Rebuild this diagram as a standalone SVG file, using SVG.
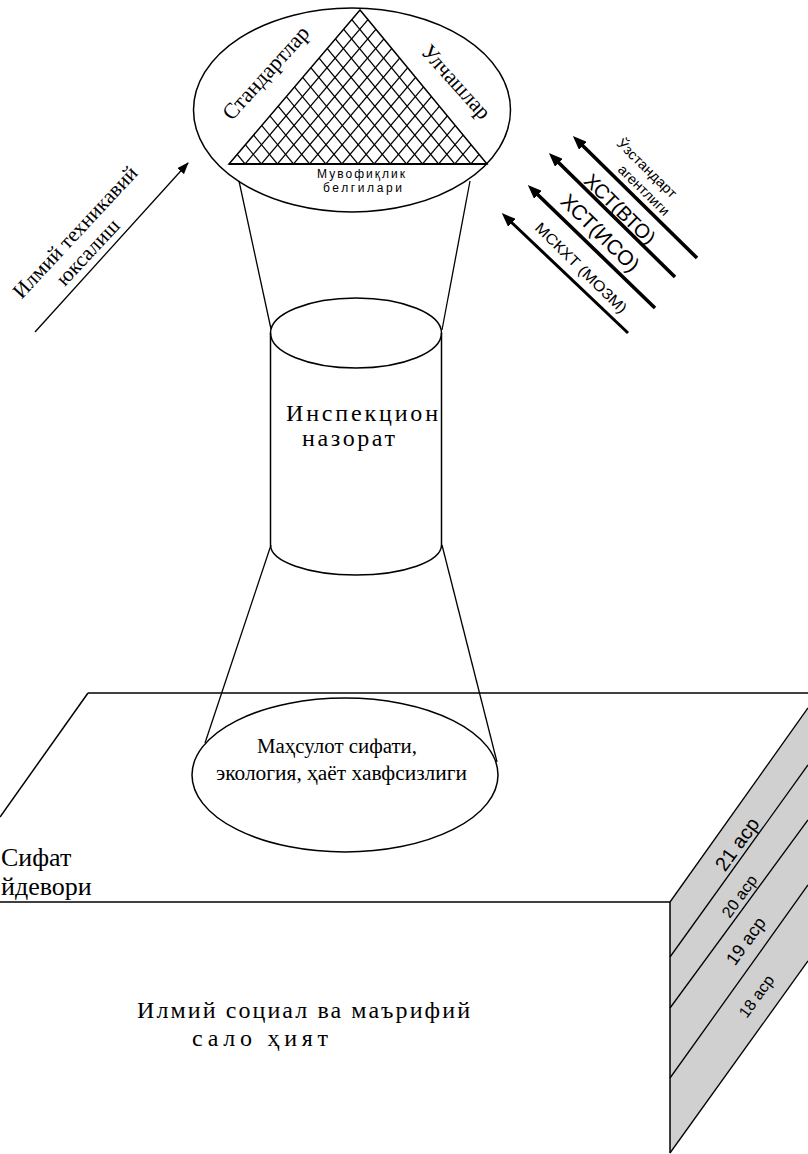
<svg xmlns="http://www.w3.org/2000/svg" width="808" height="1154" viewBox="0 0 808 1154">
<style>
.ln{fill:none;stroke:#000;stroke-width:1.5}
.tn{fill:none;stroke:#000;stroke-width:1.3}
.serif{font-family:'Liberation Serif','Times New Roman','DejaVu Serif',serif;fill:#000}
.sans{font-family:'Liberation Sans',Arial,'DejaVu Sans',sans-serif;fill:#000}
.hatch{stroke:#000;stroke-width:1.2}
.thick{fill:none;stroke:#000;stroke-width:3.6}
</style>
<defs>
<clipPath id="tri"><polygon points="360,10 229,164 487,164"/></clipPath>
<marker id="ah" markerUnits="userSpaceOnUse" markerWidth="14" markerHeight="11" viewBox="0 0 14 11" refX="4" refY="5.5" orient="auto"><path d="M0,0 L14,5.5 L0,11 Z" fill="#000"/></marker>
<marker id="ahs" markerUnits="userSpaceOnUse" markerWidth="12" markerHeight="9" viewBox="0 0 12 9" refX="11" refY="4.5" orient="auto"><path d="M0,0 L12,4.5 L0,9 Z" fill="#000"/></marker>
</defs>

<!-- Base box (quality wall) -->
<g id="box">
<polygon points="670,902 808,708 808,961 670,1153" fill="#d0d0d0" stroke="none"/>
<line class="ln" x1="88" y1="693" x2="808" y2="693"/>
<line class="ln" x1="88" y1="693" x2="0" y2="817"/>
<line class="ln" x1="0" y1="902" x2="670" y2="902"/>
<line class="ln" x1="670" y1="902" x2="670" y2="1153"/>
<line class="tn" x1="670" y1="902" x2="808" y2="708"/>
<line class="tn" x1="670" y1="1153" x2="808" y2="961"/>
<line class="tn" x1="670" y1="957" x2="808" y2="765"/>
<line class="tn" x1="670" y1="1008" x2="808" y2="820"/>
<line class="tn" x1="670" y1="1078" x2="808" y2="885"/>
<text class="sans" font-size="20" text-anchor="middle" transform="translate(737,844) rotate(-54)" y="7">21 аср</text>
<text class="sans" font-size="16" text-anchor="middle" transform="translate(739,896) rotate(-54)" y="6">20 аср</text>
<text class="sans" font-size="18" text-anchor="middle" transform="translate(746,941) rotate(-54)" y="6">19 аср</text>
<text class="sans" font-size="16" text-anchor="middle" transform="translate(756,996) rotate(-54)" y="6">18 аср</text>
<text class="serif" font-size="26" x="1" y="866">Сифат</text>
<text class="serif" font-size="26" x="1" y="895">йдевори</text>
<text class="serif" font-size="24" x="137" y="1018" textLength="333" lengthAdjust="spacing">Илмий социал ва маърифий</text>
<text class="serif" font-size="24" x="192" y="1046" textLength="136" lengthAdjust="spacing">сало ҳият</text>
</g>

<!-- Connectors (cone lines and arrows) -->
<g id="connectors">
<line class="tn" x1="239" y1="181" x2="271" y2="329"/>
<line class="tn" x1="470" y1="181" x2="442" y2="330"/>
<line class="tn" x1="271" y1="545" x2="205" y2="743"/>
<line class="tn" x1="442" y1="545" x2="497" y2="762"/>
<line class="tn" x1="35" y1="332" x2="188" y2="163" marker-end="url(#ahs)"/>
<line class="thick" x1="697" y1="258" x2="580" y2="143" marker-end="url(#ah)"/>
<line class="thick" x1="675" y1="277" x2="556" y2="160" marker-end="url(#ah)"/>
<line class="thick" x1="655" y1="308" x2="535" y2="192" marker-end="url(#ah)"/>
<line class="thick" style="stroke-width:3" x1="628" y1="333" x2="509" y2="220" marker-end="url(#ah)"/>
</g>

<!-- Top ellipse with pyramid -->
<g id="top">
<ellipse class="ln" cx="352" cy="110" rx="158.5" ry="102"/>
<g clip-path="url(#tri)" class="hatch">
<line x1="245.1" y1="164" x2="376.1" y2="10"/>
<line x1="261.3" y1="164" x2="392.3" y2="10"/>
<line x1="277.4" y1="164" x2="408.4" y2="10"/>
<line x1="293.5" y1="164" x2="424.5" y2="10"/>
<line x1="309.6" y1="164" x2="440.6" y2="10"/>
<line x1="325.8" y1="164" x2="456.8" y2="10"/>
<line x1="341.9" y1="164" x2="472.9" y2="10"/>
<line x1="358.0" y1="164" x2="489.0" y2="10"/>
<line x1="374.1" y1="164" x2="505.1" y2="10"/>
<line x1="390.3" y1="164" x2="521.3" y2="10"/>
<line x1="406.4" y1="164" x2="537.4" y2="10"/>
<line x1="422.5" y1="164" x2="553.5" y2="10"/>
<line x1="438.6" y1="164" x2="569.6" y2="10"/>
<line x1="454.8" y1="164" x2="585.8" y2="10"/>
<line x1="470.9" y1="164" x2="601.9" y2="10"/>
<line x1="470.9" y1="164" x2="343.9" y2="10"/>
<line x1="454.8" y1="164" x2="327.8" y2="10"/>
<line x1="438.6" y1="164" x2="311.6" y2="10"/>
<line x1="422.5" y1="164" x2="295.5" y2="10"/>
<line x1="406.4" y1="164" x2="279.4" y2="10"/>
<line x1="390.3" y1="164" x2="263.3" y2="10"/>
<line x1="374.1" y1="164" x2="247.1" y2="10"/>
<line x1="358.0" y1="164" x2="231.0" y2="10"/>
<line x1="341.9" y1="164" x2="214.9" y2="10"/>
<line x1="325.8" y1="164" x2="198.8" y2="10"/>
<line x1="309.6" y1="164" x2="182.6" y2="10"/>
<line x1="293.5" y1="164" x2="166.5" y2="10"/>
<line x1="277.4" y1="164" x2="150.4" y2="10"/>
<line x1="261.3" y1="164" x2="134.3" y2="10"/>
<line x1="245.1" y1="164" x2="118.1" y2="10"/>
</g>
<polygon points="360,10 229,164 487,164" fill="none" stroke="#000" stroke-width="1.5"/>
<line x1="229" y1="164" x2="487" y2="164" stroke="#000" stroke-width="2"/>
<text class="serif" font-size="22" text-anchor="middle" transform="translate(266,73) rotate(-48)" y="7" textLength="118" lengthAdjust="spacingAndGlyphs">Стандартлар</text>
<text class="serif" font-size="22" text-anchor="middle" transform="translate(456,82) rotate(48)" y="7" textLength="92" lengthAdjust="spacingAndGlyphs">Улчашлар</text>
<text class="sans" font-size="12" x="317" y="178" textLength="88" lengthAdjust="spacing">Мувофиқлик</text>
<text class="sans" font-size="12" x="323" y="192" textLength="79" lengthAdjust="spacing">белгилари</text>
</g>

<!-- Cylinder -->
<g id="cylinder">
<ellipse class="ln" cx="356" cy="333" rx="85.5" ry="35"/>
<line class="ln" x1="270.5" y1="333" x2="270.5" y2="545"/>
<line class="ln" x1="441.5" y1="333" x2="441.5" y2="545"/>
<path class="ln" d="M270.5,545 A85.5,30 0 0 0 441.5,545"/>
<text class="serif" font-size="24" x="286" y="421" textLength="152" lengthAdjust="spacing">Инспекцион</text>
<text class="serif" font-size="24" x="302" y="446" textLength="93" lengthAdjust="spacing">назорат</text>
</g>

<!-- Bottom ellipse -->
<g id="bottom">
<ellipse class="ln" cx="345" cy="775" rx="153" ry="77" fill="#fff"/>
<text class="serif" font-size="20" x="257" y="753" textLength="160" lengthAdjust="spacingAndGlyphs">Маҳсулот сифати,</text>
<text class="serif" font-size="20" x="216" y="780" textLength="251" lengthAdjust="spacingAndGlyphs">экология, ҳаёт хавфсизлиги</text>
</g>

<!-- Left arrow label -->
<g id="left-label">
<g transform="translate(75,232) rotate(-47)">
<text class="serif" font-size="21" text-anchor="middle" x="0" y="7" textLength="172" lengthAdjust="spacingAndGlyphs">Илмий техникавий</text>
<text class="serif" font-size="21" text-anchor="middle" x="-6" y="30">юксалиш</text>
</g>
</g>

<!-- Right arrow labels -->
<g id="right-labels">
<text class="sans" font-size="14" text-anchor="middle" transform="translate(647,168) rotate(44.5)" y="5" textLength="78" lengthAdjust="spacingAndGlyphs">Ўзстандарт</text>
<text class="sans" font-size="14" text-anchor="middle" transform="translate(644,190) rotate(44.5)" y="5" textLength="66" lengthAdjust="spacingAndGlyphs">агентлиги</text>
<text class="sans" font-size="20" text-anchor="middle" transform="translate(620,209) rotate(44.5)" y="7">ХСТ(ВТО)</text>
<text class="sans" font-size="21" text-anchor="middle" transform="translate(600,233) rotate(44.5)" y="7">ХСТ(ИСО)</text>
<text class="sans" font-size="15" text-anchor="middle" transform="translate(581,268) rotate(44.5)" y="5" textLength="122" lengthAdjust="spacingAndGlyphs">МСКХТ (МОЗМ)</text>
</g>
</svg>
